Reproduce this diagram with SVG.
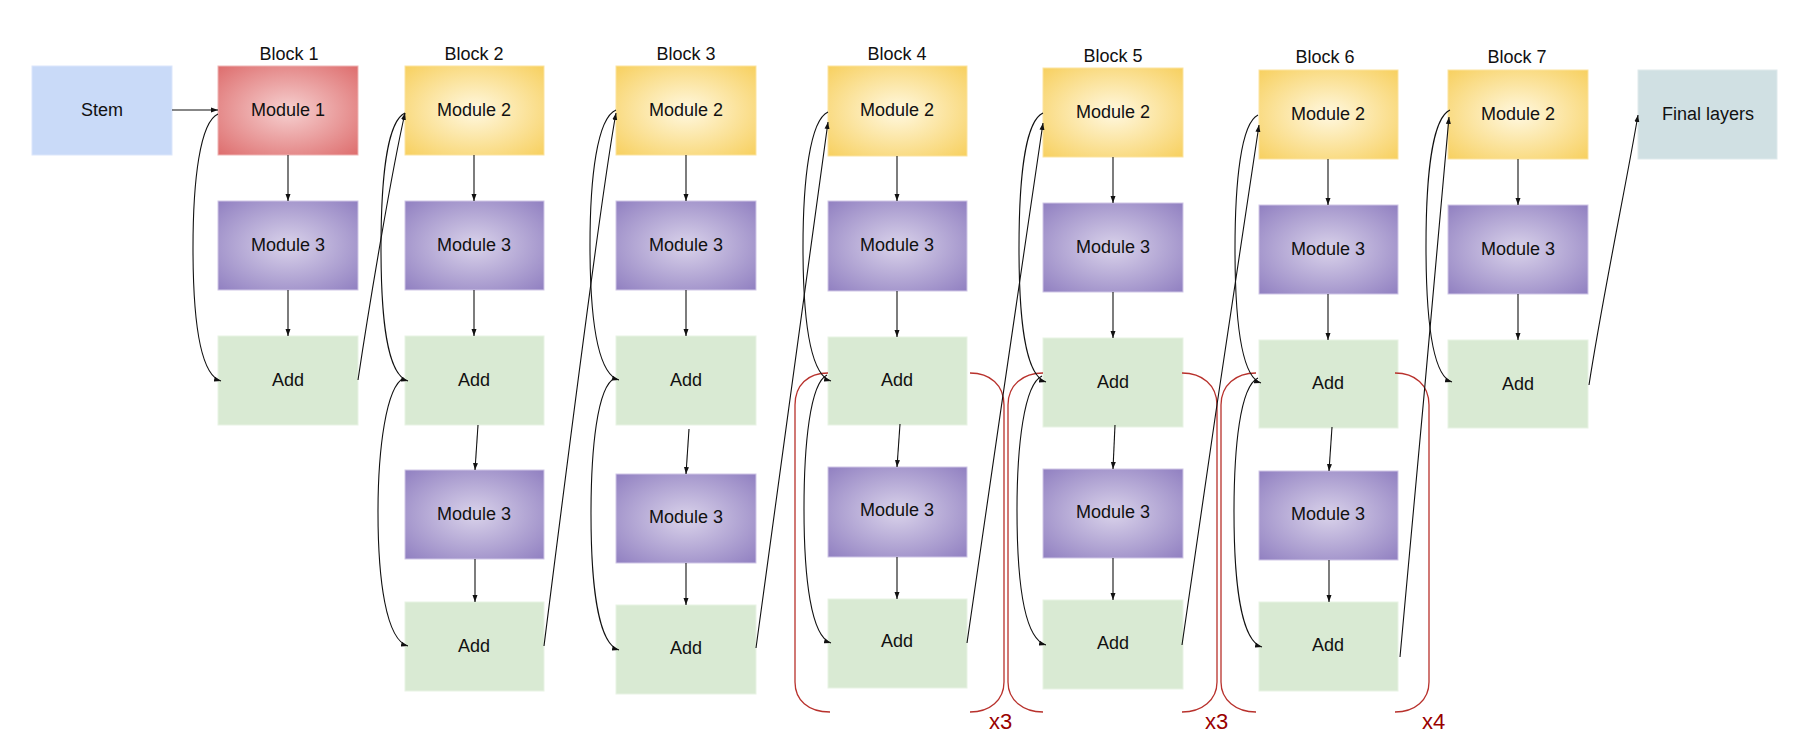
<svg xmlns="http://www.w3.org/2000/svg" width="1795" height="754" viewBox="0 0 1795 754">
<defs>
<radialGradient id="gM1" cx="0.5" cy="0.5" r="0.72"><stop offset="0" stop-color="#f6d0d0"/><stop offset="1" stop-color="#dd6b6b"/></radialGradient>
<radialGradient id="gM2" cx="0.5" cy="0.5" r="0.72"><stop offset="0" stop-color="#fff8e0"/><stop offset="1" stop-color="#f7cf5c"/></radialGradient>
<radialGradient id="gM3" cx="0.5" cy="0.5" r="0.72"><stop offset="0" stop-color="#d9d2ea"/><stop offset="1" stop-color="#8f7ec0"/></radialGradient>
<marker id="ah" markerUnits="userSpaceOnUse" markerWidth="8" markerHeight="6" refX="7" refY="3" orient="auto"><path d="M0,0.5 L7,3 L0,5.5 z" fill="#111"/></marker>
<style>
.m1{fill:url(#gM1);stroke:#eeb5b5;stroke-width:1}
.m2{fill:url(#gM2);stroke:#fbe3a0;stroke-width:1}
.m3{fill:url(#gM3);stroke:#cfc6e6;stroke-width:1}
.add{fill:#d9ead3;stroke:#e8f3e4;stroke-width:1}
.stem{fill:#c9daf8;stroke:#dbe6fb;stroke-width:1}
.fin{fill:#d0e0e3;stroke:#dfeaec;stroke-width:1}
text{font-family:"Liberation Sans",Arial,sans-serif;font-size:18px;fill:#111}
.t{text-anchor:middle;dominant-baseline:central}
.lbl{text-anchor:middle}
.rep{font-size:22px;fill:#990000}
.c{fill:none;stroke:#111;stroke-width:1.1;marker-end:url(#ah)}
.br{fill:none;stroke:#b8312c;stroke-width:1.3}
</style>
</defs>
<rect width="1795" height="754" fill="#fff"/>

<g id="stem"><rect class="stem" x="32" y="66" width="140" height="89"/><text class="t" x="102" y="110">Stem</text></g>

<g id="block1">
<text class="lbl" x="289" y="60">Block 1</text>
<g id="b1-m1"><rect class="m1" x="218" y="66" width="140" height="89"/><text class="t" x="288" y="110">Module 1</text></g>
<g id="b1-m3"><rect class="m3" x="218" y="201" width="140" height="89"/><text class="t" x="288" y="245">Module 3</text></g>
<g id="b1-add"><rect class="add" x="218" y="336" width="140" height="89"/><text class="t" x="288" y="380">Add</text></g>
</g>

<g id="block2">
<text class="lbl" x="474" y="60">Block 2</text>
<g id="b2-m2"><rect class="m2" x="405" y="66" width="139" height="89"/><text class="t" x="474" y="110">Module 2</text></g>
<g id="b2-m3"><rect class="m3" x="405" y="201" width="139" height="89"/><text class="t" x="474" y="245">Module 3</text></g>
<g id="b2-add1"><rect class="add" x="405" y="336" width="139" height="89"/><text class="t" x="474" y="380">Add</text></g>
<g id="b2-m3b"><rect class="m3" x="405" y="470" width="139" height="89"/><text class="t" x="474" y="514">Module 3</text></g>
<g id="b2-add2"><rect class="add" x="405" y="602" width="139" height="89"/><text class="t" x="474" y="646">Add</text></g>
</g>

<g id="block3">
<text class="lbl" x="686" y="60">Block 3</text>
<g id="b3-m2"><rect class="m2" x="616" y="66" width="140" height="89"/><text class="t" x="686" y="110">Module 2</text></g>
<g id="b3-m3"><rect class="m3" x="616" y="201" width="140" height="89"/><text class="t" x="686" y="245">Module 3</text></g>
<g id="b3-add1"><rect class="add" x="616" y="336" width="140" height="89"/><text class="t" x="686" y="380">Add</text></g>
<g id="b3-m3b"><rect class="m3" x="616" y="474" width="140" height="89"/><text class="t" x="686" y="517">Module 3</text></g>
<g id="b3-add2"><rect class="add" x="616" y="605" width="140" height="89"/><text class="t" x="686" y="648">Add</text></g>
</g>

<g id="block4">
<text class="lbl" x="897" y="60">Block 4</text>
<g id="b4-m2"><rect class="m2" x="828" y="66" width="139" height="90"/><text class="t" x="897" y="110">Module 2</text></g>
<g id="b4-m3"><rect class="m3" x="828" y="201" width="139" height="90"/><text class="t" x="897" y="245">Module 3</text></g>
<g id="b4-add1"><rect class="add" x="828" y="337" width="139" height="88"/><text class="t" x="897" y="380">Add</text></g>
<g id="b4-m3b"><rect class="m3" x="828" y="467" width="139" height="90"/><text class="t" x="897" y="510">Module 3</text></g>
<g id="b4-add2"><rect class="add" x="828" y="599" width="139" height="89"/><text class="t" x="897" y="641">Add</text></g>
</g>

<g id="block5">
<text class="lbl" x="1113" y="62">Block 5</text>
<g id="b5-m2"><rect class="m2" x="1043" y="68" width="140" height="89"/><text class="t" x="1113" y="112">Module 2</text></g>
<g id="b5-m3"><rect class="m3" x="1043" y="203" width="140" height="89"/><text class="t" x="1113" y="247">Module 3</text></g>
<g id="b5-add1"><rect class="add" x="1043" y="338" width="140" height="89"/><text class="t" x="1113" y="382">Add</text></g>
<g id="b5-m3b"><rect class="m3" x="1043" y="469" width="140" height="89"/><text class="t" x="1113" y="512">Module 3</text></g>
<g id="b5-add2"><rect class="add" x="1043" y="600" width="140" height="89"/><text class="t" x="1113" y="643">Add</text></g>
</g>

<g id="block6">
<text class="lbl" x="1325" y="63">Block 6</text>
<g id="b6-m2"><rect class="m2" x="1259" y="70" width="139" height="89"/><text class="t" x="1328" y="114">Module 2</text></g>
<g id="b6-m3"><rect class="m3" x="1259" y="205" width="139" height="89"/><text class="t" x="1328" y="249">Module 3</text></g>
<g id="b6-add1"><rect class="add" x="1259" y="340" width="139" height="88"/><text class="t" x="1328" y="383">Add</text></g>
<g id="b6-m3b"><rect class="m3" x="1259" y="471" width="139" height="89"/><text class="t" x="1328" y="514">Module 3</text></g>
<g id="b6-add2"><rect class="add" x="1259" y="602" width="139" height="89"/><text class="t" x="1328" y="645">Add</text></g>
</g>

<g id="block7">
<text class="lbl" x="1517" y="63">Block 7</text>
<g id="b7-m2"><rect class="m2" x="1448" y="70" width="140" height="89"/><text class="t" x="1518" y="114">Module 2</text></g>
<g id="b7-m3"><rect class="m3" x="1448" y="205" width="140" height="89"/><text class="t" x="1518" y="249">Module 3</text></g>
<g id="b7-add"><rect class="add" x="1448" y="340" width="140" height="88"/><text class="t" x="1518" y="384">Add</text></g>
</g>

<g id="final"><rect class="fin" x="1638" y="70" width="139" height="89"/><text class="t" x="1708" y="114">Final layers</text></g>

<g id="repeats">
<path class="br" d="M828 373 C808 373 795 385 795 405 L795 682 C795 700 808 712 830 712"/>
<path class="br" d="M970 373 C990 373 1004 385 1004 405 L1004 682 C1004 700 990 712 970 712"/>
<path class="br" d="M1043 373 C1023 373 1008 385 1008 405 L1008 682 C1008 700 1023 712 1043 712"/>
<path class="br" d="M1182 373 C1202 373 1217 385 1217 405 L1217 682 C1217 700 1202 712 1182 712"/>
<path class="br" d="M1256 373 C1236 373 1221 385 1221 405 L1221 682 C1221 700 1236 712 1256 712"/>
<path class="br" d="M1395 373 C1415 373 1429 385 1429 405 L1429 682 C1429 700 1415 712 1395 712"/>
<text class="rep" x="989" y="729">x3</text>
<text class="rep" x="1205" y="729">x3</text>
<text class="rep" x="1422" y="729">x4</text>
</g>

<g id="connectors">
<path class="c" d="M172 110 L218 110"/>
<!-- vertical -->
<path class="c" d="M288 155 L288 201"/><path class="c" d="M288 290 L288 336"/>
<path class="c" d="M474 155 L474 201"/><path class="c" d="M474 290 L474 336"/>
<path class="c" d="M478 425 L475 470"/><path class="c" d="M475 559 L475 602"/>
<path class="c" d="M686 155 L686 201"/><path class="c" d="M686 290 L686 336"/>
<path class="c" d="M689 429 L686 474"/><path class="c" d="M686 563 L686 605"/>
<path class="c" d="M897 156 L897 201"/><path class="c" d="M897 291 L897 337"/>
<path class="c" d="M900 424 L897 467"/><path class="c" d="M897 557 L897 599"/>
<path class="c" d="M1113 157 L1113 203"/><path class="c" d="M1113 292 L1113 338"/>
<path class="c" d="M1115 425 L1113 469"/><path class="c" d="M1113 558 L1113 600"/>
<path class="c" d="M1328 159 L1328 205"/><path class="c" d="M1328 294 L1328 340"/>
<path class="c" d="M1332 427 L1329 471"/><path class="c" d="M1329 560 L1329 602"/>
<path class="c" d="M1518 159 L1518 205"/><path class="c" d="M1518 294 L1518 340"/>
<!-- skip: module to add1 -->
<path class="c" d="M218 114 C200 122 193 180 193 248 C193 320 200 375 221 381"/>
<path class="c" d="M405 113 C387 121 381 180 381 248 C381 320 387 375 408 381"/>
<path class="c" d="M616 110 C597 118 590 178 590 245 C590 318 597 374 619 380"/>
<path class="c" d="M828 112 C810 120 803 180 803 247 C803 320 810 375 831 381"/>
<path class="c" d="M1043 113 C1025 121 1019 180 1019 248 C1019 320 1025 376 1046 382"/>
<path class="c" d="M1258 115 C1241 123 1235 182 1235 249 C1235 322 1241 377 1261 383"/>
<path class="c" d="M1450 110 C1432 118 1426 178 1426 246 C1426 320 1432 376 1452 382"/>
<!-- skip: add1 to add2 -->
<path class="c" d="M404 378 C386 386 378 450 378 512 C378 580 386 640 408 646"/>
<path class="c" d="M615 378 C597 386 591 450 591 514 C591 584 598 644 619 650"/>
<path class="c" d="M827 375 C810 383 804 445 804 509 C804 578 811 637 831 643"/>
<path class="c" d="M1042 376 C1024 384 1017 446 1017 510 C1017 580 1024 639 1046 645"/>
<path class="c" d="M1258 378 C1240 386 1234 448 1234 512 C1234 582 1241 641 1262 647"/>
<!-- between blocks -->
<path class="c" d="M358 380 C370 300 392 170 405 113"/>
<path class="c" d="M544 646 C560 520 600 200 616 113"/>
<path class="c" d="M756 648 C776 500 812 240 828 122"/>
<path class="c" d="M967 643 C988 495 1026 240 1043 123"/>
<path class="c" d="M1182 645 C1203 497 1241 242 1259 125"/>
<path class="c" d="M1400 657 C1414 510 1437 250 1449 117"/>
<path class="c" d="M1589 385 C1602 300 1627 180 1638 115"/>
</g>
</svg>
